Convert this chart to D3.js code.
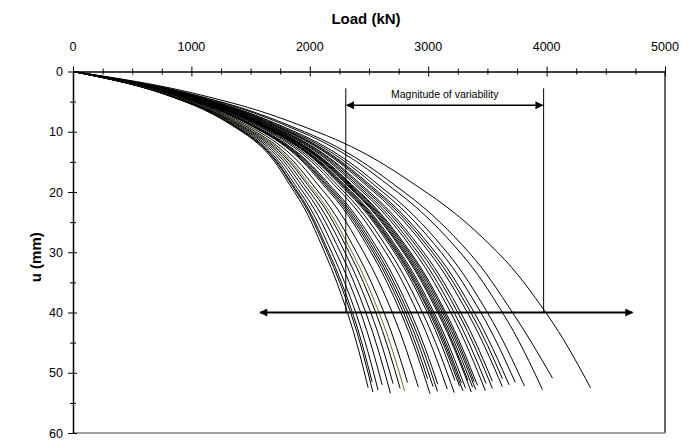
<!DOCTYPE html>
<html>
<head>
<meta charset="utf-8">
<script src="https://cdn.jsdelivr.net/npm/d3@7"></script>
<style>
  body { margin: 0; background: #fff; }
  svg { font-family: Arial, "Liberation Sans", sans-serif; }
</style>
</head>
<body>
<div id="chart"></div>
<script>
// displacement levels (mm) where the load of each curve was read
const uLevels = [0, 2, 5, 10, 20, 30, 40];

// load (kN) of each curve at the levels above
const curveLoads = [
  [0, 467, 943, 1427, 1870, 2125, 2318],
  [0, 469, 948, 1436, 1887, 2147, 2345],
  [0, 471, 952, 1442, 1897, 2160, 2360],
  [0, 474, 958, 1453, 1916, 2185, 2388],
  [0, 478, 967, 1469, 1943, 2221, 2430],
  [0, 482, 976, 1485, 1972, 2259, 2473],
  [0, 486, 985, 1501, 2000, 2296, 2515],
  [0, 490, 994, 1517, 2028, 2332, 2557],
  [0, 493, 1000, 1528, 2046, 2357, 2585],
  [0, 497, 1009, 1543, 2074, 2394, 2627],
  [0, 504, 1024, 1570, 2121, 2455, 2697],
  [0, 510, 1039, 1597, 2167, 2517, 2768],
  [0, 513, 1043, 1605, 2182, 2536, 2790],
  [0, 514, 1048, 1612, 2195, 2553, 2810],
  [0, 516, 1052, 1620, 2209, 2571, 2830],
  [0, 519, 1057, 1629, 2224, 2591, 2852],
  [0, 524, 1069, 1650, 2262, 2641, 2909],
  [0, 528, 1078, 1666, 2290, 2677, 2951],
  [0, 532, 1087, 1682, 2317, 2714, 2993],
  [0, 534, 1090, 1688, 2328, 2728, 3010],
  [0, 535, 1093, 1693, 2336, 2739, 3021],
  [0, 536, 1096, 1698, 2345, 2750, 3035],
  [0, 538, 1099, 1704, 2355, 2763, 3049],
  [0, 541, 1105, 1715, 2375, 2790, 3080],
  [0, 542, 1108, 1719, 2383, 2800, 3092],
  [0, 543, 1111, 1725, 2392, 2812, 3105],
  [0, 545, 1114, 1730, 2402, 2825, 3120],
  [0, 546, 1117, 1736, 2412, 2838, 3135],
  [0, 547, 1120, 1741, 2421, 2850, 3148],
  [0, 551, 1129, 1757, 2448, 2886, 3190],
  [0, 554, 1135, 1768, 2467, 2911, 3219],
  [0, 557, 1142, 1780, 2488, 2939, 3250],
  [0, 560, 1147, 1789, 2505, 2961, 3275],
  [0, 565, 1159, 1810, 2542, 3009, 3331],
  [0, 568, 1165, 1821, 2562, 3035, 3360],
  [0, 571, 1171, 1832, 2580, 3060, 3388],
  [0, 576, 1183, 1853, 2617, 3108, 3444],
  [0, 582, 1195, 1875, 2655, 3158, 3500],
  [0, 594, 1223, 1923, 2739, 3269, 3627],
  [0, 602, 1241, 1955, 2796, 3343, 3712],
  [0, 629, 1300, 2060, 2980, 3586, 3993]
];

// last point of each curve
const endLoad = [2493, 2533, 2526, 2577, 2611, 2681, 2703, 2763, 2801, 2825,
  2917, 3016, 2995, 3041, 3079, 3081, 3161, 3220, 3226, 3264,
  3293, 3281, 3314, 3364, 3334, 3375, 3401, 3389, 3416, 3483,
  3489, 3542, 3542, 3626, 3627, 3683, 3735, 3813, 3965, 4050, 4371];
const endU = [52.5, 53.2, 51.5, 52.9, 52.0, 53.4, 51.8, 52.6, 53.0, 51.6,
  52.4, 53.5, 51.0, 52.3, 53.1, 51.9, 52.7, 53.3, 51.3, 52.2,
  53.0, 51.7, 52.5, 53.2, 51.2, 52.4, 52.8, 51.5, 52.1, 53.0,
  51.8, 52.6, 51.4, 52.3, 51.0, 52.0, 51.6, 52.2, 52.8, 50.9, 52.5];

// annotations
const variabilityRange = [2304, 3975];   // kN
const variabilityU = [2.8, 5.6];         // top of lines, arrow level (mm)
const spreadArrow = [1580, 4725];        // kN at u = 40
const spreadU = 40;

const xTicks = [0, 1000, 2000, 3000, 4000, 5000];
const yTicks = [0, 10, 20, 30, 40, 50, 60];

const W = 698, H = 441;
const svg = d3.select("#chart").append("svg")
  .attr("width", W).attr("height", H);

const x = d3.scaleLinear().domain([0, 5000]).range([73, 665]);
const y = d3.scaleLinear().domain([0, 60]).range([71.5, 433]);

// frame: right and bottom
svg.append("line").attr("x1", x(5000)).attr("x2", x(5000))
  .attr("y1", y(0)).attr("y2", y(60)).attr("stroke", "#000").attr("stroke-width", 1.2);
svg.append("line").attr("x1", x(0)).attr("x2", x(5000))
  .attr("y1", y(60)).attr("y2", y(60)).attr("stroke", "#808080").attr("stroke-width", 1.5);

// curves
const line = d3.line()
  .x(d => x(d[0]))
  .y(d => y(d[1]))
  .curve(d3.curveMonotoneY);

curveLoads.forEach((loads, i) => {
  const pts = loads.map((p, j) => [p, uLevels[j]]);
  pts.push([endLoad[i], endU[i]]);
  svg.append("path")
    .attr("d", line(pts))
    .attr("fill", "none")
    .attr("stroke", i === 8 ? "#6b6b2a" : "#000")
    .attr("stroke-width", 1);
});

// x axis (top)
const gx = svg.append("g").attr("transform", `translate(0,${y(0)})`);
gx.call(d3.axisTop(x).tickValues(d3.range(0, 5001, 250)).tickSize(0).tickFormat(""));
gx.selectAll(".tick line").remove();
gx.selectAll(".tick").append("line")
  .attr("y1", d => d % 1000 === 0 ? -5 : -3)
  .attr("y2", d => d % 1000 === 0 ? 5 : 3)
  .attr("stroke", "#000");
gx.select(".domain").attr("stroke-width", 1.5);

svg.append("g").selectAll("text").data(xTicks).join("text")
  .attr("x", d => x(d)).attr("y", y(0) - 21)
  .attr("text-anchor", "middle")
  .attr("font-size", 12.5)
  .text(d => d);

// y axis
const gy = svg.append("g").attr("transform", `translate(${x(0)},0)`);
gy.call(d3.axisLeft(y).tickValues(d3.range(0, 61, 5)).tickSize(0).tickFormat(""));
gy.selectAll(".tick line").remove();
gy.selectAll(".tick").append("line")
  .attr("x1", d => d % 10 === 0 ? -5 : -3)
  .attr("x2", d => d % 10 === 0 ? 4 : 3)
  .attr("stroke", "#000");
gy.select(".domain").attr("stroke-width", 1.5);

svg.append("g").selectAll("text").data(yTicks).join("text")
  .attr("x", x(0) - 10).attr("y", d => y(d) + 4.5)
  .attr("text-anchor", "end")
  .attr("font-size", 12.5)
  .text(d => d);

// axis titles
svg.append("text").attr("x", 366).attr("y", 24)
  .attr("text-anchor", "middle").attr("font-weight", "bold").attr("font-size", 15)
  .text("Load (kN)");
svg.append("text")
  .attr("transform", `translate(41,${(y(0) + y(60)) / 2 + 5}) rotate(-90)`)
  .attr("text-anchor", "middle").attr("font-weight", "bold").attr("font-size", 15)
  .text("u (mm)");

// arrow heads
const defs = svg.append("defs");
defs.append("marker").attr("id", "ah")
  .attr("viewBox", "0 0 10 10").attr("refX", 9).attr("refY", 5)
  .attr("markerWidth", 10).attr("markerHeight", 8)
  .attr("markerUnits", "userSpaceOnUse")
  .attr("orient", "auto-start-reverse")
  .append("path").attr("d", "M0,0 L10,5 L0,10 Z").attr("fill", "#000");

// magnitude of variability
variabilityRange.forEach(p => {
  svg.append("line")
    .attr("x1", x(p)).attr("x2", x(p))
    .attr("y1", y(variabilityU[0])).attr("y2", y(spreadU))
    .attr("stroke", "#000").attr("stroke-width", 1);
});
svg.append("line")
  .attr("x1", x(variabilityRange[0]) + 1).attr("x2", x(variabilityRange[1]) - 1)
  .attr("y1", y(variabilityU[1])).attr("y2", y(variabilityU[1]))
  .attr("stroke", "#000").attr("stroke-width", 1.5)
  .attr("marker-start", "url(#ah)").attr("marker-end", "url(#ah)");
svg.append("text")
  .attr("x", (x(variabilityRange[0]) + x(variabilityRange[1])) / 2)
  .attr("y", y(variabilityU[1]) - 7)
  .attr("text-anchor", "middle").attr("font-size", 10.5)
  .text("Magnitude of variability");

// spread arrow at u = 40
svg.append("line")
  .attr("x1", x(spreadArrow[0])).attr("x2", x(spreadArrow[1]))
  .attr("y1", y(spreadU)).attr("y2", y(spreadU))
  .attr("stroke", "#000").attr("stroke-width", 2)
  .attr("marker-start", "url(#ah)").attr("marker-end", "url(#ah)");
</script>
</body>
</html>
